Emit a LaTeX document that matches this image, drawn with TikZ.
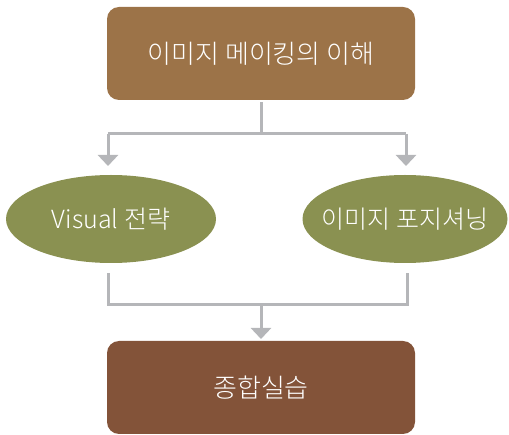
\documentclass[tikz,border=0pt]{standalone}
\usepackage{fontspec}
\setmainfont{Noto Sans CJK KR Light}
\usetikzlibrary{shapes.geometric,arrows.meta}
\definecolor{topbrown}{HTML}{9C7348}
\definecolor{botbrown}{HTML}{835339}
\definecolor{olive}{HTML}{8A9151}
\definecolor{linegray}{HTML}{B5B6B9}
\tikzset{
  box/.style={rounded corners=12pt, minimum width=308pt, minimum height=93pt, text=white, font=\fontsize{26}{30}\selectfont, inner sep=0pt},
  oval/.style={ellipse, fill=olive, text=white, font=\fontsize{25}{29}\selectfont, inner sep=0pt},
  conn/.style={draw=linegray, line width=3pt},
  arr/.style={conn, -{Triangle[length=11pt,width=20pt]}}
}
\begin{document}
\begin{tikzpicture}[x=1pt,y=-1pt]
\useasboundingbox (0,0) rectangle (509,435);
\node[box, fill=topbrown] (top) at (261,53.5) {이미지 메이킹의 이해};
\node[oval, minimum width=210pt, minimum height=88pt] (left) at (111,219) {\makebox[0pt]{Visual 전략}};
\node[oval, minimum width=205pt, minimum height=88pt] (right) at (405,219) {\makebox[0pt]{이미지 포지셔닝}};
\node[box, fill=botbrown] (bot) at (261,387.5) {종합실습};
\coordinate (j1) at (261,134);
\coordinate (l1) at (108,134);
\coordinate (r1) at (406,134);
\coordinate (lt) at (108,166);
\coordinate (rt) at (406,166);
\draw[conn] (top.south) ++(0,2) -- (j1);
\draw[conn] (l1) -- (r1);
\draw[arr] (l1) -- (lt);
\draw[arr] (r1) -- (rt);
\coordinate (lb0) at (108,273);
\coordinate (rb0) at (407,273);
\coordinate (lb1) at (108,305);
\coordinate (rb1) at (407,305);
\coordinate (j2) at (261,305);
\coordinate (bt) at (261,339);
\draw[conn, line join=miter] (lb0) -- (lb1) -- (rb1) -- (rb0);
\draw[arr] (j2) -- (bt);
\end{tikzpicture}
\end{document}
